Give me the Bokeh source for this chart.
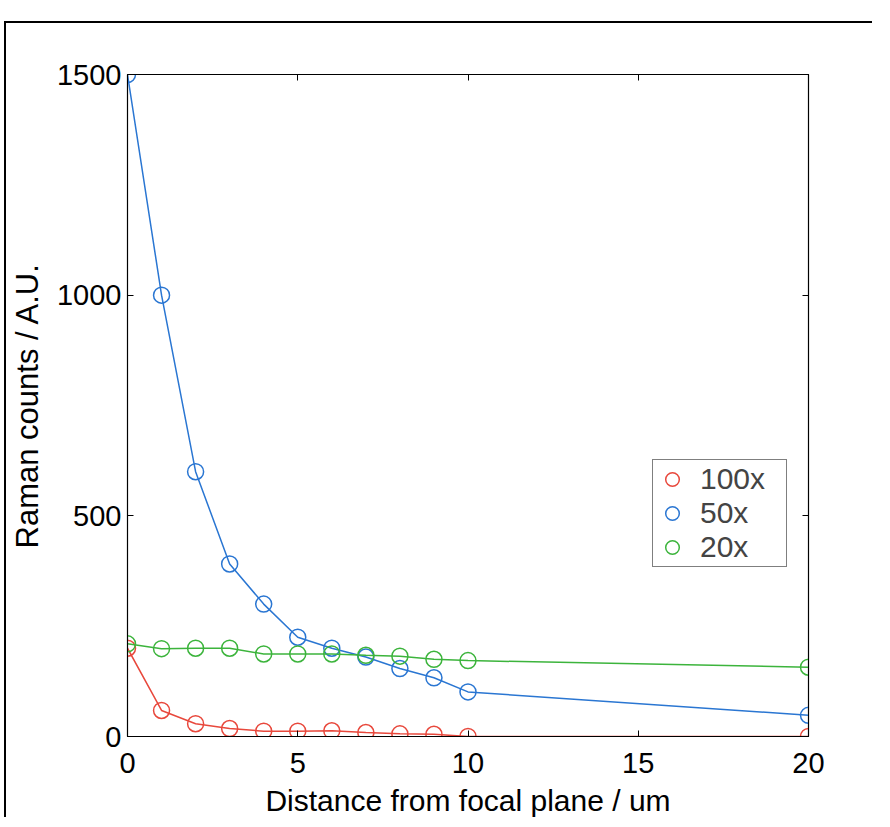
from bokeh.plotting import figure
from bokeh.models import LinearAxis, Legend, LegendItem, FixedTicker, Range1d
from bokeh.embed import file_html
from bokeh.resources import INLINE

x_main = [0, 1, 2, 3, 4, 5, 6, 7, 8, 9, 10, 20]
y_100x = [200, 59, 29, 18, 12, 12, 13, 9, 6, 5, 0, 0]
y_50x = [1500, 1000, 600, 391, 300, 225, 200, 180, 154, 133, 101, 48]
y_20x = [210, 199, 200, 200, 187, 187, 187, 184, 182, 175, 172, 157]
series_names = ["100x", "50x", "20x"]
colors = ["#e8483c", "#2a76d2", "#3cb43c"]
x_ticks = [0, 5, 10, 15, 20]
y_ticks = [0, 500, 1000, 1500]

FONT = "Liberation Sans"

p = figure(width=868, height=796, output_backend="svg", toolbar_location=None,
           x_range=Range1d(0, 20), y_range=Range1d(0, 1500),
           x_axis_label="Distance from focal plane / um",
           y_axis_label="Raman counts / A.U.",
           min_border_left=110, min_border_top=51, min_border_right=66, min_border_bottom=81)
p.styles = {"margin-left": "4px", "margin-top": "21px",
            "border-left": "2px solid black", "border-top": "2px solid black"}
p.grid.visible = False
p.outline_line_color = "black"
p.outline_line_width = 1.2
p.background_fill_color = "white"
p.border_fill_color = "white"

for ax in [p.xaxis[0], p.yaxis[0]]:
    ax.major_tick_in = 6
    ax.major_tick_out = 0
    ax.minor_tick_line_color = None
    ax.major_label_text_font = FONT
    ax.major_label_text_font_size = "29px"
    ax.major_label_text_color = "black"
    ax.axis_label_text_font = FONT
    ax.axis_label_text_font_size = "30px"
    ax.axis_label_text_font_style = "normal"
    ax.axis_label_text_color = "black"
    ax.axis_line_color = "black"
    ax.major_tick_line_color = "black"
p.yaxis[0].axis_label_text_font_size = "31px"
p.xaxis[0].ticker = FixedTicker(ticks=x_ticks)
p.yaxis[0].ticker = FixedTicker(ticks=y_ticks)
p.xaxis[0].major_label_standoff = 16
p.xaxis[0].axis_label_standoff = 8
p.yaxis[0].major_label_standoff = 6
p.yaxis[0].axis_label_standoff = 9

top = LinearAxis(ticker=FixedTicker(ticks=x_ticks), major_label_text_font_size="0px",
                 major_tick_in=6, major_tick_out=0, minor_tick_line_color=None,
                 major_label_standoff=0)
top.major_label_text_color = None
right = LinearAxis(ticker=FixedTicker(ticks=y_ticks), major_label_text_font_size="0px",
                   major_tick_in=6, major_tick_out=0, minor_tick_line_color=None,
                   major_label_standoff=0)
right.major_label_text_color = None
p.add_layout(top, "above")
p.add_layout(right, "right")

items = []
for name, ys, c in zip(series_names, [y_100x, y_50x, y_20x], colors):
    p.line(x_main, ys, line_color=c, line_width=1.5)
    r = p.scatter(x_main, ys, marker="circle", size=16, fill_color=None,
                  line_color=c, line_width=1.5)
    items.append(LegendItem(label=name, renderers=[r]))

legend = Legend(items=items, location=(525, 169), label_text_font=FONT,
                label_text_font_size="30px", spacing=0, padding=2,
                label_standoff=11, glyph_width=34, glyph_height=34, label_width=84,
                border_line_color="black", border_line_width=1.2,
                background_fill_alpha=1.0, margin=0)
p.add_layout(legend, "center")

open("out.html", "w").write(file_html(p, INLINE))
